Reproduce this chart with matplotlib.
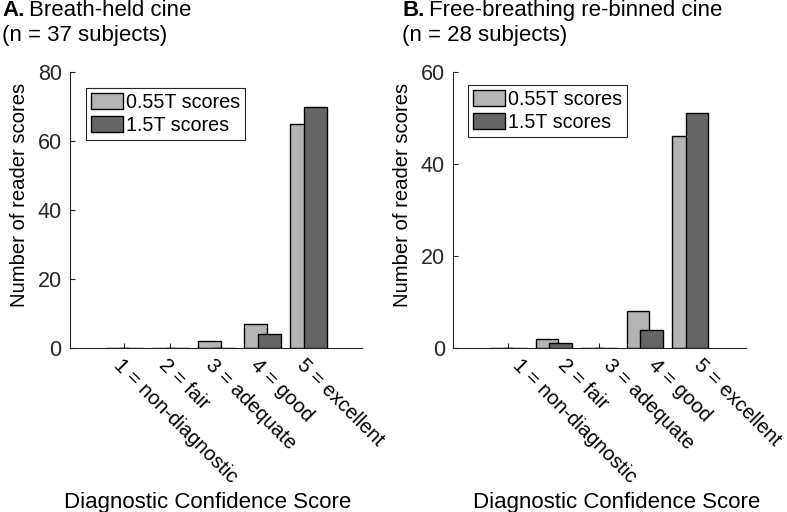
import matplotlib
matplotlib.use("Agg")
import matplotlib.pyplot as plt
from matplotlib.patches import Patch
import numpy as np

plt.rcParams['font.family'] = ['Liberation Sans', 'DejaVu Sans']

categories = ["1 = non-diagnostic", "2 = fair", "3 = adequate", "4 = good", "5 = excellent"]
scores = [1, 2, 3, 4, 5]
series_names = ["0.55T scores", "1.5T scores"]

a_low = [0, 0, 2, 7, 65]
a_high = [0, 0, 0, 4, 70]
b_low = [0, 2, 0, 8, 46]
b_high = [0, 1, 0, 4, 51]

titles = [("A.", "Breath-held cine", "(n = 37 subjects)"),
          ("B.", "Free-breathing re-binned cine", "(n = 28 subjects)")]

W, H = 787, 512
fig = plt.figure(figsize=(W / 100, H / 100), dpi=100)

LIGHT = '#b4b4b4'
DARK = '#666666'
AXC = '#262626'


def fx(x):
    return x / W


def fy(y):
    return 1 - y / H


def make_panel(left, right, low, high, ymax, xlim, legend_xy, xlabel_x, title, tx, lab_dx):
    ax = fig.add_axes([fx(left), fy(348), fx(right - left), (348 - 72) / H])
    x = np.array(scores, dtype=float)
    ax.bar(x - 0.15, low, 0.5, color=LIGHT, edgecolor='black', linewidth=1.0, zorder=2)
    ax.bar(x + 0.15, high, 0.5, color=DARK, edgecolor='black', linewidth=1.0, zorder=3)
    ax.set_xlim(*xlim)
    ax.set_ylim(0, ymax)
    ax.set_yticks(np.arange(0, ymax + 1, 20))
    ax.set_xticks(scores)
    ax.set_xticklabels([])
    # rotated category labels, placed under each tick
    for s, lab in zip(scores, categories):
        ax.annotate(lab, xy=(s, 0), xycoords=('data', 'axes fraction'),
                    xytext=(lab_dx * 0.72, -10), textcoords='offset points',
                    rotation=-45, ha='left', va='center', rotation_mode='anchor',
                    fontsize=14.6, color='black', annotation_clip=False)
    for s in ['top', 'right']:
        ax.spines[s].set_visible(False)
    for s in ['left', 'bottom']:
        ax.spines[s].set_color(AXC)
        ax.spines[s].set_linewidth(0.8)
    ax.tick_params(direction='in', length=3.5, width=0.8, color=AXC)
    ax.tick_params(axis='y', labelsize=15.5, labelcolor=AXC, pad=6)
    ax.set_ylabel("Number of reader scores", fontsize=14.6, color='black')
    ax.yaxis.set_label_coords(-0.14, 0.555)
    ax.set_xlabel("Diagnostic Confidence Score", fontsize=16, color='black')
    ax.xaxis.set_label_coords(xlabel_x, -0.52)
    handles = [Patch(facecolor=LIGHT, edgecolor='black', linewidth=1.0),
               Patch(facecolor=DARK, edgecolor='black', linewidth=1.0)]
    leg = ax.legend(handles, series_names, loc='upper left', bbox_to_anchor=legend_xy,
                    borderaxespad=0, fontsize=14.2, handlelength=1.62, handleheight=0.86,
                    handletextpad=0.15, borderpad=0.25, labelspacing=0.2,
                    fancybox=False, framealpha=1)
    leg.get_frame().set_edgecolor(AXC)
    leg.get_frame().set_linewidth(0.8)
    bold, t1, t2 = title
    fig.text(fx(tx), fy(16), bold, fontsize=16, fontweight='bold', va='baseline')
    fig.text(fx(tx + 27), fy(16), t1, fontsize=16, va='baseline')
    fig.text(fx(tx), fy(41.5), t2, fontsize=16, va='baseline')
    return ax


make_panel(70, 362, a_low, a_high, 80, (-0.18, 6.17), (0.055, 0.942), 0.473, titles[0], 2, -8)
make_panel(453.3, 745.7, b_low, b_high, 60, (-0.21, 6.22), (0.05, 0.953), 0.557, titles[1], 402, 7)

fig.savefig("out.png", dpi=100)
